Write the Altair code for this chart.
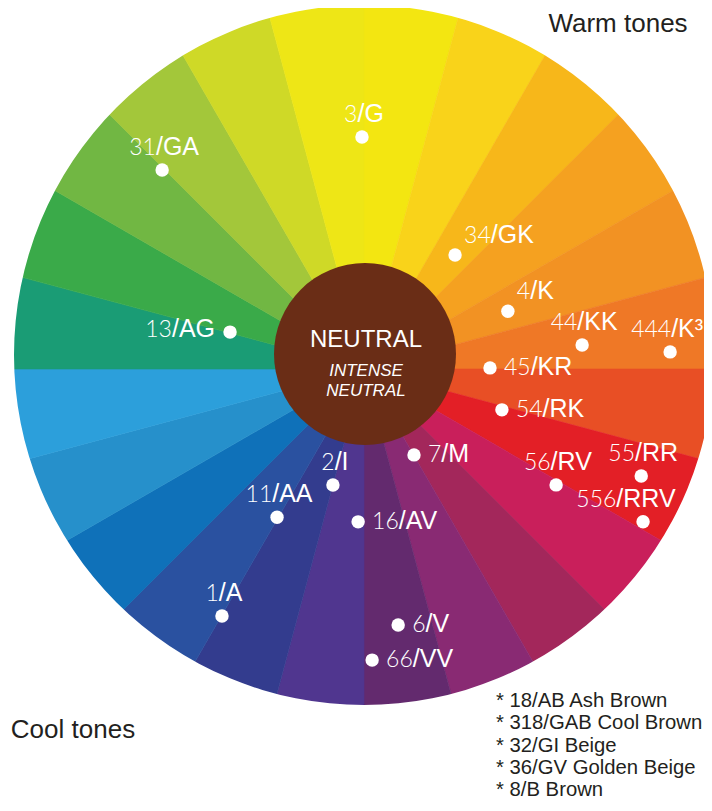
import math
import altair as alt
import pandas as pd

# ---------------- data ----------------
# 24 wedges of the colour wheel, clockwise from 12 o'clock (15 degrees each)
wedge_colors = [
    "#F3E611", "#F9D31A", "#F7B71A", "#F5A120", "#F29223", "#EF7826",
    "#E84F25", "#E31F26", "#C91F5B", "#A3275B", "#892A73", "#632A6E",
    "#50368F", "#333C8E", "#2A51A0", "#0F71B9", "#2690CB", "#2C9FDB",
    "#1A9C75", "#3AAA49", "#71B743", "#A3C73A", "#CFD927", "#EEE616",
]

# shade dots: number part, letter part, angle on the wheel (deg, clockwise from top),
# distance from the hub (% of wheel radius), where the label sits
dot_numbers = ["3", "31", "13", "34", "4", "44", "444", "45", "54", "55",
               "556", "56", "7", "16", "6", "66", "2", "11", "1"]
dot_letters = ["/G", "/GA", "/AG", "/GK", "/K", "/KK", "/K\u00b3", "/KR", "/RK", "/RR",
               "/RRV", "/RV", "/M", "/AV", "/V", "/VV", "/I", "/AA", "/A"]
dot_angle = [359.5, 314.6, 285.4, 38.6, 68.1, 83.7, 86.8, 89.5, 106.5, 111.1,
             118.7, 121.1, 149.8, 182.2, 172.4, 178.4, 195.0, 210.4, 209.9]
dot_radius = [66.3, 81.0, 39.7, 41.7, 44.3, 62.7, 87.6, 36.0, 41.1, 84.9,
              90.9, 64.1, 28.4, 43.7, 73.8, 83.2, 34.3, 49.1, 81.4]
label_place = ["above", "above", "left", "above-right", "above-right", "above", "above-left",
               "right", "right", "above", "above-left", "above", "right", "right",
               "right", "right", "above", "above", "above"]

center_title = "NEUTRAL"
center_sub = ["INTENSE", "NEUTRAL"]
warm_label = "Warm tones"
cool_label = "Cool tones"
notes = ["* 18/AB Ash Brown", "* 318/GAB Cool Brown", "* 32/GI Beige",
         "* 36/GV Golden Beige", "* 8/B Brown"]

# ---------------- geometry / style ----------------
W, H = 696, 795
CX, CY = 356, 361          # hub where the wedges meet
R = 350                    # wheel radius (100 units)
U = R / 100.0
RIM_X, RIM_Y = 356, 347    # centre of the outer rim
HUB_X, HUB_Y, HUB_R = 357, 346, 91

NUM_FS, LET_FS = 23, 25
DIGIT_W = 0.58 * NUM_FS
LW = {"/": 0.278, "A": 0.667, "B": 0.667, "G": 0.778, "I": 0.278, "K": 0.667,
      "M": 0.833, "R": 0.722, "V": 0.667, "\u00b3": 0.333}

rows = []
for num, let, a, r, place in zip(dot_numbers, dot_letters, dot_angle, dot_radius, label_place):
    X = r * math.sin(math.radians(a))
    Y = r * math.cos(math.radians(a))
    wn = len(num) * DIGIT_W
    wl = sum(LW[c] for c in let) * LET_FS
    if place == "above":
        bx, by = -(wn + wl) / 2 + wn + 2, -15
    elif place == "above-right":
        bx, by = 9 + wn, -12
    elif place == "above-left":
        bx, by = 33 - wl, -15
    elif place == "right":
        bx, by = 14 + wn, 7
    else:  # left
        bx, by = -15 - wl, 5
    rows.append({"num": num, "let": let, "X": X, "Y": Y,
                 "lx": X + bx / U, "ly": Y - by / U})
dots_df = pd.DataFrame(rows)

xscale = alt.Scale(domain=[-100, 100], range=[CX - R, CX + R])
yscale = alt.Scale(domain=[-100, 100], range=[CY + R, CY - R])

wedges = pd.DataFrame({"idx": list(range(len(wedge_colors))),
                       "v": [1] * len(wedge_colors),
                       "hex": wedge_colors})

wheel = alt.Chart(wedges).mark_arc(radius=385, strokeWidth=0.6).encode(
    theta=alt.Theta("v:Q", stack=True),
    order=alt.Order("idx:Q"),
    color=alt.Color("hex:N", scale=None),
    stroke=alt.Stroke("hex:N", scale=None),
    x=alt.value(CX), y=alt.value(CY),
)

one = pd.DataFrame({"k": [0]})
mask = alt.Chart(one).mark_arc(theta=0, theta2=6.2832, innerRadius=R, radius=900,
                               color="white").encode(
    x=alt.value(RIM_X), y=alt.value(RIM_Y))

hub = alt.Chart(one).mark_arc(theta=0, theta2=6.2832, radius=HUB_R,
                              color="#6A2D16").encode(
    x=alt.value(HUB_X), y=alt.value(HUB_Y))

dots = alt.Chart(dots_df).mark_circle(size=180, color="white", opacity=1).encode(
    x=alt.X("X:Q", scale=xscale, axis=None),
    y=alt.Y("Y:Q", scale=yscale, axis=None),
)

nums = alt.Chart(dots_df).mark_text(align="right", baseline="alphabetic", font="Lato",
                                    fontWeight=300, fontSize=NUM_FS, color="white").encode(
    x=alt.X("lx:Q", scale=xscale, axis=None),
    y=alt.Y("ly:Q", scale=yscale, axis=None),
    text="num:N",
)

lets = alt.Chart(dots_df).mark_text(align="left", baseline="alphabetic",
                                    font="Liberation Sans", fontSize=LET_FS,
                                    color="white").encode(
    x=alt.X("lx:Q", scale=xscale, axis=None),
    y=alt.Y("ly:Q", scale=yscale, axis=None),
    text="let:N",
)

title_t = alt.Chart(pd.DataFrame({"t": [center_title]})).mark_text(
    align="center", baseline="alphabetic", font="Liberation Sans", fontSize=24,
    color="white").encode(x=alt.value(358), y=alt.value(339), text="t:N")

sub1_t = alt.Chart(pd.DataFrame({"t": [center_sub[0]]})).mark_text(
    align="center", baseline="alphabetic", font="Liberation Sans", fontSize=17,
    fontStyle="italic", color="white").encode(
    x=alt.value(358), y=alt.value(368), text="t:N")

sub2_t = alt.Chart(pd.DataFrame({"t": [center_sub[1]]})).mark_text(
    align="center", baseline="alphabetic", font="Liberation Sans", fontSize=17,
    fontStyle="italic", color="white").encode(
    x=alt.value(358), y=alt.value(388), text="t:N")

warm_t = alt.Chart(pd.DataFrame({"t": [warm_label]})).mark_text(
    align="center", baseline="alphabetic", font="Liberation Sans", fontSize=26,
    color="#231F20").encode(x=alt.value(610), y=alt.value(24), text="t:N")

cool_t = alt.Chart(pd.DataFrame({"t": [cool_label]})).mark_text(
    align="center", baseline="alphabetic", font="Liberation Sans", fontSize=26,
    color="#231F20").encode(x=alt.value(65), y=alt.value(730), text="t:N")

notes_t = alt.Chart(pd.DataFrame({"t": ["\n".join(notes)]})).mark_text(
    align="left", baseline="alphabetic", font="Liberation Sans", fontSize=20.3,
    lineBreak="\n", lineHeight=22.3, color="#231F20").encode(
    x=alt.value(488), y=alt.value(699), text="t:N")

chart = alt.layer(wheel, mask, hub, dots, nums, lets, title_t, sub1_t, sub2_t,
                  warm_t, cool_t, notes_t).properties(
    width=W, height=H, padding=0,
    autosize=alt.AutoSizeParams(type="none"),
).configure_view(stroke=None)

chart.save("out.html", embed_options={"renderer": "svg", "actions": False})
